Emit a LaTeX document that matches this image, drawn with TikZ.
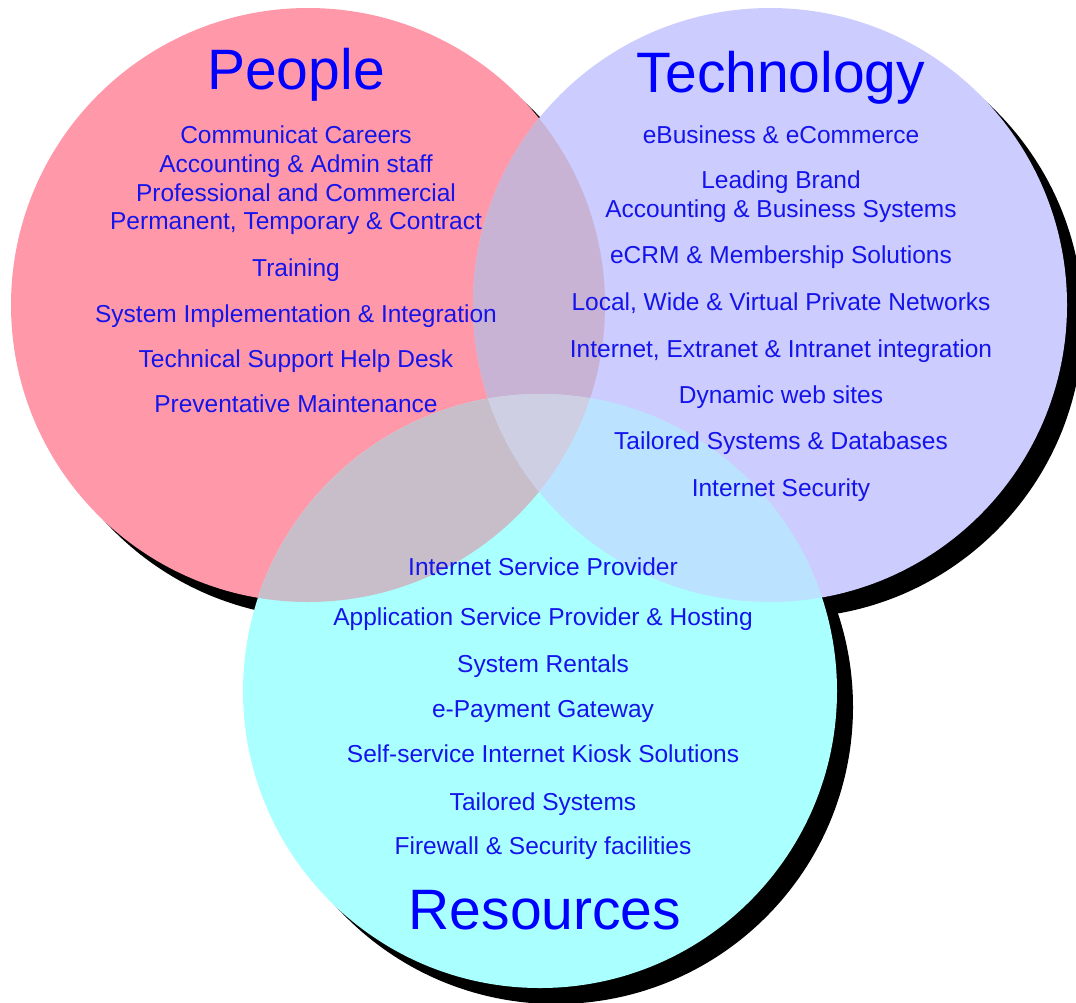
\documentclass[tikz,border=0pt]{standalone}
\usepackage{fontspec}
\setmainfont{Liberation Sans}
\definecolor{pinkc}{RGB}{255,153,170}
\definecolor{lavc}{RGB}{204,204,255}
\definecolor{cyanc}{RGB}{170,255,255}
\definecolor{pinklav}{RGB}{201,179,212}
\definecolor{pinkcyan}{RGB}{200,190,202}
\definecolor{lavcyan}{RGB}{187,227,255}
\definecolor{allthree}{RGB}{207,207,227}
\definecolor{titleblue}{RGB}{0,0,255}
\definecolor{itemblue}{RGB}{20,20,235}
\begin{document}
\begin{tikzpicture}[x=1pt,y=-1pt,
  title/.style={text=titleblue, font=\fontsize{57}{62}\selectfont, anchor=base, inner sep=0pt},
  item/.style={text=itemblue, font=\fontsize{24.5}{28}\selectfont, anchor=base, inner sep=0pt},
  shadowdisk/.style={fill=black}]
\useasboundingbox (0,0) rectangle (1076,1002);
\coordinate (cp) at (308,305);
\coordinate (ct) at (770,305);
\coordinate (cr) at (540,691);
\def\rad{297pt}
% shadows
\fill[shadowdisk] ([shift={(16,16)}]cp) circle[radius=\rad];
\fill[shadowdisk] ([shift={(16,16)}]ct) circle[radius=\rad];
\fill[shadowdisk] ([shift={(16,16)}]cr) circle[radius=\rad];
% discs
\fill[pinkc] (cp) circle[radius=\rad];
\fill[lavc] (ct) circle[radius=\rad];
\fill[cyanc] (cr) circle[radius=\rad];
% overlaps
\begin{scope}\clip (cp) circle[radius=\rad]; \fill[pinklav] (ct) circle[radius=\rad]; \end{scope}
\begin{scope}\clip (cp) circle[radius=\rad]; \fill[pinkcyan] (cr) circle[radius=\rad]; \end{scope}
\begin{scope}\clip (ct) circle[radius=\rad]; \fill[lavcyan] (cr) circle[radius=\rad]; \end{scope}
\begin{scope}\clip (cp) circle[radius=\rad]; \clip (ct) circle[radius=\rad]; \fill[allthree] (cr) circle[radius=\rad]; \end{scope}
% People
\node[title] (tp) at (296,89) {People};
\node[item] (p1) at (296,143) {Communicat Careers};
\node[item] (p2) at (296,172) {Accounting \& Admin staff};
\node[item] (p3) at (296,201) {Professional and Commercial};
\node[item] (p4) at (296,229) {Permanent, Temporary \& Contract};
\node[item] (p5) at (296,276) {Training};
\node[item] (p6) at (296,322) {System Implementation \& Integration};
\node[item] (p7) at (296,367) {Technical Support Help Desk};
\node[item] (p8) at (296,412) {Preventative Maintenance};
% Technology
\node[title] (tt) at (781,92) {Technology};
\node[item] (t1) at (781,143) {eBusiness \& eCommerce};
\node[item] (t2) at (781,188) {Leading Brand};
\node[item] (t3) at (781,217) {Accounting \& Business Systems};
\node[item] (t4) at (781,263) {eCRM \& Membership Solutions};
\node[item] (t5) at (781,310) {Local, Wide \& Virtual Private Networks};
\node[item] (t6) at (781,357) {Internet, Extranet \& Intranet integration};
\node[item] (t7) at (781,403) {Dynamic web sites};
\node[item] (t8) at (781,449) {Tailored Systems \& Databases};
\node[item] (t9) at (781,496) {Internet Security};
% Resources
\node[item] (r1) at (543,575) {Internet Service Provider};
\node[item] (r2) at (543,625) {Application Service Provider \& Hosting};
\node[item] (r3) at (543,672) {System Rentals};
\node[item] (r4) at (543,717) {e-Payment Gateway};
\node[item] (r5) at (543,762) {Self-service Internet Kiosk Solutions};
\node[item] (r6) at (543,810) {Tailored Systems};
\node[item] (r7) at (543,854) {Firewall \& Security facilities};
\node[title] (tr) at (545,929) {Resources};
\end{tikzpicture}
\end{document}
